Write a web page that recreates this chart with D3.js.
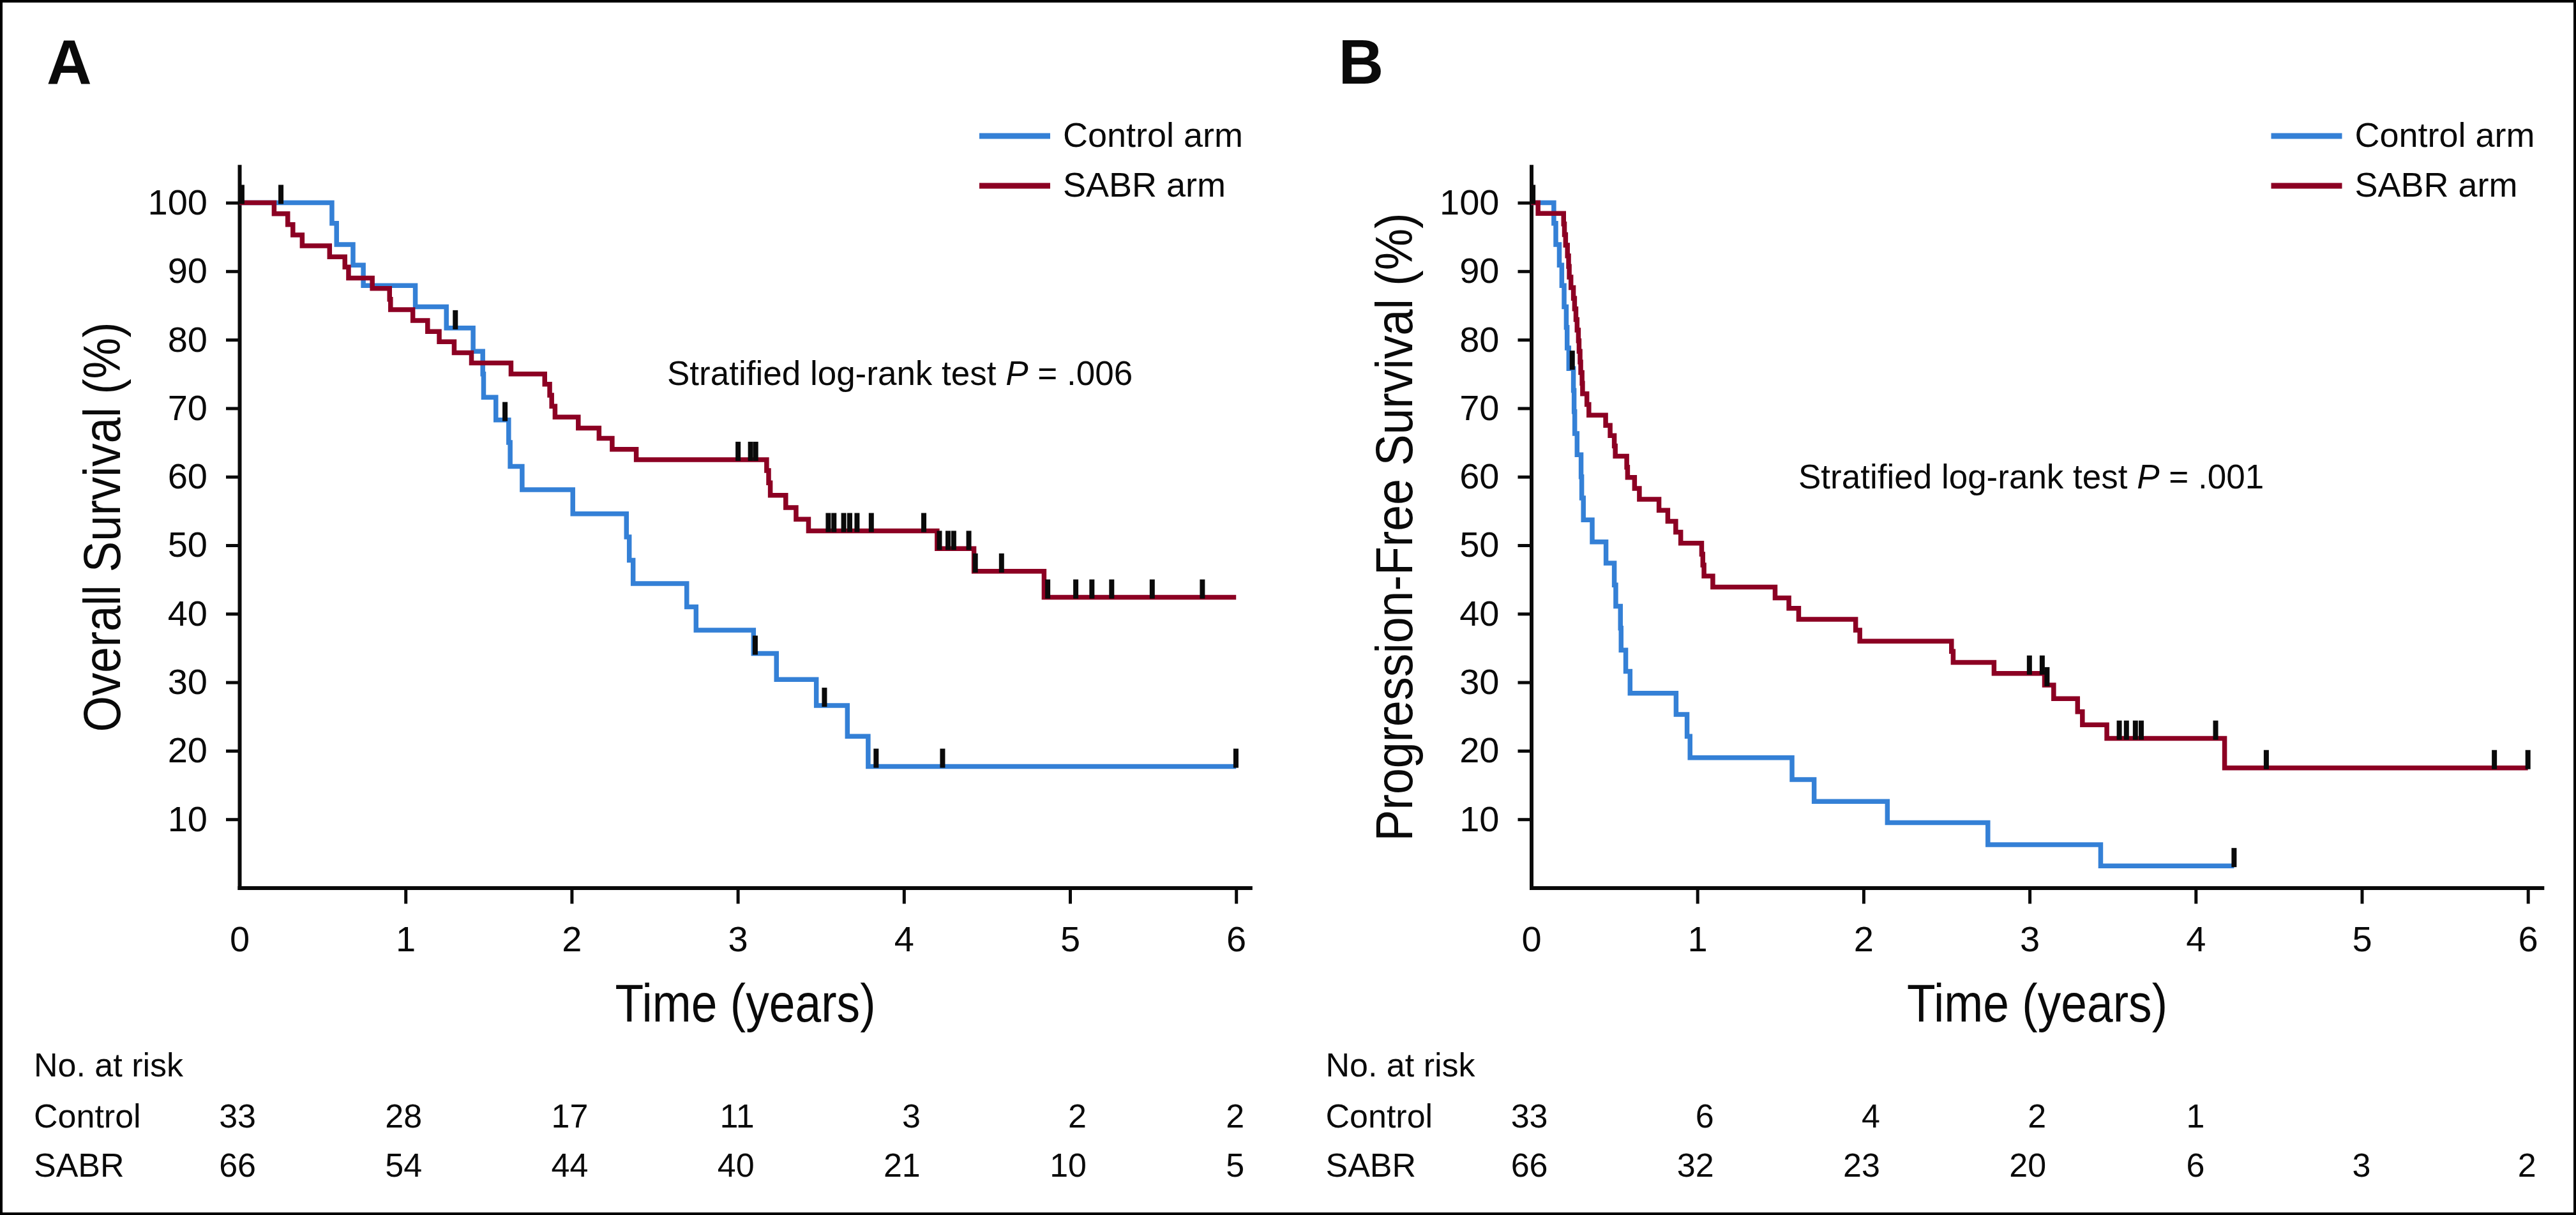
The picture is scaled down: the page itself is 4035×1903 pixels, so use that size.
<!DOCTYPE html>
<html><head><meta charset="utf-8">
<script src="https://cdn.jsdelivr.net/npm/d3@7"></script>
<style>
html,body{margin:0;padding:0;background:#fff;}
svg{display:block;}
text{font-family:"Liberation Sans",Arial,Helvetica,sans-serif;fill:#0a0a0a;}
</style>
</head><body>
<svg id="c" width="4035" height="1903"></svg>
<script>
// ---------------- DATA ----------------
const yearTicks = [0, 1, 2, 3, 4, 5, 6];
const survTicks = [10, 20, 30, 40, 50, 60, 70, 80, 90, 100];
const seriesNames = ["Control arm", "SABR arm"];
const riskRowNames = ["Control", "SABR"];

// Panel A: Overall survival
const osControlTime = [0, 0.557, 0.585, 0.684, 0.746, 1.059, 1.246, 1.407, 1.465, 1.470, 1.544, 1.621, 1.630, 1.702, 2.007, 2.330, 2.347, 2.370, 2.693, 2.749, 3.095, 3.233, 3.473, 3.660, 3.785];
const osControlSurv = [100, 97.0, 93.9, 90.9, 87.9, 84.8, 81.7, 78.3, 75.0, 71.6, 68.3, 65.0, 61.5, 58.1, 54.6, 51.2, 47.8, 44.4, 41.0, 37.6, 34.2, 30.4, 26.6, 22.1, 17.7];
const osControlCensor = [0.25, 1.30, 1.599, 3.105, 3.522, 3.833, 4.233, 5.999];
const osControlEnd = 6.0;

const osSabrTime = [0, 0.209, 0.291, 0.322, 0.378, 0.543, 0.635, 0.657, 0.800, 0.904, 0.910, 1.044, 1.133, 1.203, 1.293, 1.397, 1.635, 1.838, 1.868, 1.880, 1.900, 2.040, 2.165, 2.244, 2.389, 3.174, 3.186, 3.196, 3.289, 3.351, 3.426, 4.200, 4.422, 4.844];
const osSabrSurv = [100, 98.4, 96.8, 95.3, 93.7, 92.1, 90.6, 89.0, 87.5, 85.9, 84.4, 82.8, 81.2, 79.7, 78.1, 76.6, 75.0, 73.5, 71.9, 70.3, 68.7, 67.1, 65.6, 64.0, 62.5, 60.9, 59.1, 57.3, 55.5, 53.8, 52.1, 49.5, 46.2, 42.4];
const osSabrCensor = [0.015, 3.002, 3.077, 3.108, 3.545, 3.579, 3.638, 3.674, 3.718, 3.804, 4.120, 4.214, 4.266, 4.300, 4.391, 4.430, 4.588, 4.866, 5.035, 5.132, 5.251, 5.495, 5.797];
const osSabrEnd = 6.0;

const osRiskControl = [33, 28, 17, 11, 3, 2, 2];
const osRiskSabr = [66, 54, 44, 40, 21, 10, 5];

// Panel B: Progression-free survival
const pfsControlTime = [0, 0.136, 0.148, 0.169, 0.184, 0.198, 0.211, 0.216, 0.226, 0.254, 0.258, 0.262, 0.276, 0.300, 0.304, 0.314, 0.367, 0.450, 0.500, 0.509, 0.537, 0.541, 0.569, 0.595, 0.872, 0.938, 0.956, 1.570, 1.703, 2.144, 2.749, 3.428];
const pfsControlSurv = [100, 97.0, 93.9, 90.9, 87.9, 84.8, 81.8, 78.8, 75.8, 72.6, 69.5, 66.3, 63.2, 60.0, 56.9, 53.7, 50.5, 47.4, 44.2, 41.1, 37.9, 34.7, 31.6, 28.4, 25.3, 22.1, 19.0, 15.8, 12.6, 9.5, 6.3, 3.2];
const pfsControlCensor = [0.247, 4.231];
const pfsControlEnd = 4.231;

const pfsSabrTime = [0, 0.041, 0.195, 0.200, 0.207, 0.218, 0.225, 0.229, 0.239, 0.254, 0.261, 0.269, 0.276, 0.284, 0.288, 0.294, 0.298, 0.306, 0.309, 0.335, 0.347, 0.448, 0.475, 0.500, 0.506, 0.575, 0.580, 0.622, 0.651, 0.769, 0.822, 0.870, 0.900, 1.026, 1.033, 1.040, 1.093, 1.468, 1.551, 1.610, 1.953, 1.978, 2.530, 2.540, 2.786, 3.090, 3.145, 3.289, 3.318, 3.465, 4.174];
const pfsSabrSurv = [100, 98.45, 96.9, 95.35, 93.8, 92.25, 90.7, 89.15, 87.6, 86.05, 84.5, 82.95, 81.4, 79.85, 78.3, 76.75, 75.2, 73.65, 72.1, 70.55, 69.0, 67.5, 66.0, 64.5, 63.0, 61.4, 59.9, 58.3, 56.7, 55.1, 53.5, 51.9, 50.3, 48.7, 47.1, 45.5, 43.9, 42.3, 40.8, 39.2, 37.6, 36.0, 34.5, 32.9, 31.3, 29.6, 27.6, 25.7, 23.8, 21.8, 17.5];
const pfsSabrCensor = [0.01, 2.999, 3.076, 3.105, 3.540, 3.583, 3.637, 3.672, 4.120, 4.425, 5.798, 6.0];
const pfsSabrEnd = 6.0;

const pfsRiskControl = [33, 6, 4, 2, 1, null, null];
const pfsRiskSabr = [66, 32, 23, 20, 6, 3, 2];

// ---------------- DRAWING ----------------
const BLUE = "#3480d6", RED = "#8c0023", INK = "#0a0a0a";
const svg = d3.select("#c");
svg.append("rect").attr("x", 0).attr("y", 0).attr("width", 4035).attr("height", 1903).attr("fill", "#fff");
svg.append("rect").attr("x", 2).attr("y", 2).attr("width", 4031).attr("height", 1899)
  .attr("fill", "none").attr("stroke", "#000").attr("stroke-width", 4);

function stepValue(times, surv, t) {
  let v = surv[0];
  for (let i = 0; i < times.length; i++) { if (times[i] <= t) v = surv[i]; }
  return v;
}

function panel(cfg) {
  const g = svg.append("g");
  const perYear = 260.2;
  const xMax = 6.085;
  const x = d3.scaleLinear().domain([0, xMax]).range([cfg.x0, cfg.x0 + xMax * perYear]);
  const y = d3.scaleLinear().domain([0, 105.3]).range([1390.5, 1390.5 - 105.3 * 10.73]);

  // axes
  const yAxis = d3.axisLeft(y).tickValues(survTicks).tickSize(21).tickSizeOuter(0).tickPadding(29);
  const ya = g.append("g").attr("transform", `translate(${cfg.x0},0)`).call(yAxis);
  const xAxis = d3.axisBottom(x).tickValues(yearTicks).tickSize(25).tickSizeOuter(0).tickPadding(35).tickFormat(d3.format("d"));
  const xa = g.append("g").attr("transform", `translate(0,${y(0)})`).call(xAxis);
  [ya, xa].forEach(a => {
    a.select(".domain").attr("stroke", INK).attr("stroke-width", 6).attr("stroke-linecap", "square");
    a.selectAll(".tick line").attr("stroke", INK).attr("stroke-width", 5);
    a.selectAll(".tick text").attr("font-size", 56).attr("fill", INK)
      .attr("font-family", '"Liberation Sans",Arial,sans-serif');
  });
  xa.selectAll(".tick").filter(d => d === 0).select("line").remove();

  // curves
  const line = d3.line().x(d => x(d[0])).y(d => y(d[1])).curve(d3.curveStepAfter);
  cfg.series.forEach(s => {
    const pts = s.time.map((t, i) => [t, s.surv[i]]);
    pts.push([s.end, s.surv[s.surv.length - 1]]);
    g.append("path").datum(pts).attr("d", line).attr("fill", "none")
      .attr("stroke", s.color).attr("stroke-width", 7.5).attr("stroke-linejoin", "miter");
  });
  // censor marks
  cfg.series.forEach(s => {
    g.selectAll(null).data(s.censor).enter().append("rect")
      .attr("x", d => x(d) - 4).attr("width", 8)
      .attr("y", d => y(stepValue(s.time, s.surv, d)) - 28).attr("height", 30)
      .attr("fill", INK);
  });

  // panel letter
  g.append("text").attr("x", cfg.x0 - 302).attr("y", 131).attr("font-size", 98)
    .attr("font-weight", "bold").text(cfg.letter);

  // y label
  g.append("text").attr("transform", `translate(${cfg.x0 - 187},${(y(0) + y(105.3)) / 2}) rotate(-90)`)
    .attr("text-anchor", "middle").attr("font-size", 82)
    .attr("textLength", cfg.ylabelLen).attr("lengthAdjust", "spacingAndGlyphs")
    .text(cfg.ylabel);

  // x label
  g.append("text").attr("x", x(3) + 12).attr("y", 1600).attr("text-anchor", "middle")
    .attr("font-size", 84).attr("textLength", 408).attr("lengthAdjust", "spacingAndGlyphs")
    .text("Time (years)");

  // legend
  cfg.series.forEach((s, i) => {
    const ly = 213 + i * 78;
    g.append("line").attr("x1", cfg.x0 + 1159).attr("x2", cfg.x0 + 1270)
      .attr("y1", ly).attr("y2", ly).attr("stroke", s.color).attr("stroke-width", 9);
    g.append("text").attr("x", cfg.x0 + 1290).attr("y", ly + 17).attr("font-size", 54).text(seriesNames[i]);
  });

  // p-value annotation
  const pt = g.append("text").attr("x", cfg.px).attr("y", cfg.py).attr("font-size", 53);
  pt.append("tspan").text("Stratified log-rank test ");
  pt.append("tspan").attr("font-style", "italic").text("P");
  pt.append("tspan").text(" = " + cfg.pval);

  // at-risk table
  const lx = cfg.x0 - 322;
  g.append("text").attr("x", lx).attr("y", 1686).attr("font-size", 52).text("No. at risk");
  const rows = [cfg.riskControl, cfg.riskSabr];
  rows.forEach((row, r) => {
    const ry = 1766 + r * 77;
    g.append("text").attr("x", lx).attr("y", ry).attr("font-size", 52).text(riskRowNames[r]);
    g.selectAll(null).data(row.map((v, i) => ({ v, t: yearTicks[i], o: cfg.riskOffset[i] })).filter(d => d.v !== null))
      .enter().append("text")
      .attr("x", d => x(d.t) + d.o).attr("y", ry).attr("text-anchor", "end").attr("font-size", 52)
      .text(d => d.v);
  });
}

panel({
  letter: "A", x0: 375,
  ylabel: "Overall Survival (%)", ylabelLen: 642,
  px: 1045, py: 603, pval: ".006",
  series: [
    { time: osControlTime, surv: osControlSurv, censor: osControlCensor, end: osControlEnd, color: BLUE },
    { time: osSabrTime, surv: osSabrSurv, censor: osSabrCensor, end: osSabrEnd, color: RED }
  ],
  riskControl: osRiskControl, riskSabr: osRiskSabr,
  riskOffset: [26, 26, 26, 26, 26, 26, 13]
});
panel({
  letter: "B", x0: 2398.5,
  ylabel: "Progression-Free Survival (%)", ylabelLen: 984,
  px: 2817, py: 765, pval: ".001",
  series: [
    { time: pfsControlTime, surv: pfsControlSurv, censor: pfsControlCensor, end: pfsControlEnd, color: BLUE },
    { time: pfsSabrTime, surv: pfsSabrSurv, censor: pfsSabrCensor, end: pfsSabrEnd, color: RED }
  ],
  riskControl: pfsRiskControl, riskSabr: pfsRiskSabr,
  riskOffset: [26, 26, 26, 26, 14, 14, 13]
});
</script>
</body></html>
